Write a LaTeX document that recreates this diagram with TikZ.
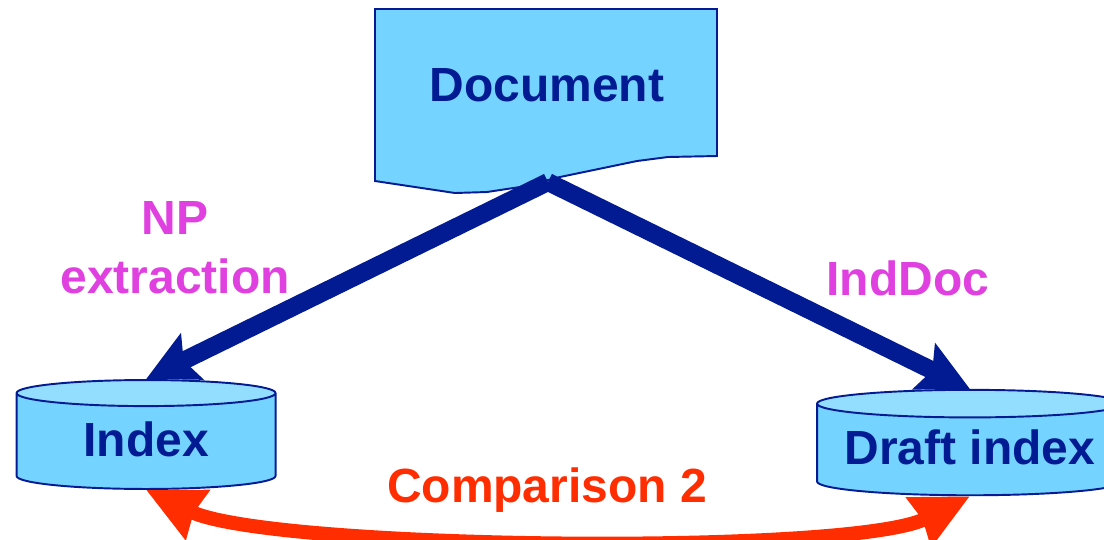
\documentclass[tikz,border=0pt]{standalone}
\usepackage{fontspec}
\setmainfont{Liberation Sans}
\usepackage{xcolor}
\usetikzlibrary{arrows.meta,backgrounds,positioning,shapes.geometric}
\definecolor{skyfill}{HTML}{75D3FF}
\definecolor{skytop}{HTML}{93DEFF}
\definecolor{navy}{HTML}{021B93}
\definecolor{redline}{HTML}{FF2D00}
\definecolor{pinklabel}{HTML}{E040E0}

\begin{document}
\begin{tikzpicture}[
    x=0.02cm, y=-0.02cm,
    on grid,
    txt/.style={font=\fontsize{27.3}{33.6}\selectfont\bfseries, align=center, inner sep=0pt},
    doclabel/.style={txt, text=navy},
    steplabel/.style={txt, text=pinklabel},
    store/.style={cylinder, shape border rotate=90, draw=navy, line width=1.1pt,
        cylinder uses custom fill, cylinder body fill=skyfill, cylinder end fill=skytop,
        inner sep=0pt, txt, text=navy},
    flow/.style={draw=navy, line width=10.2pt,
        -{Stealth[length=28.8pt, width=28.5pt, inset=5pt]}},
    compare/.style={draw=redline, line width=8pt,
        {Stealth[length=32pt, width=30pt, inset=2pt]}-{Stealth[length=32pt, width=30pt, inset=2pt]}}
]
    \useasboundingbox (0,0) rectangle (1104,539);

    \node[doclabel] (doc) at (547,85) {Document};
    \node[store, aspect=0.208, minimum height=62pt, minimum width=147.4pt, below left=202.9pt and 228.2pt of doc] (index) {\raisebox{2.3pt}{Index}};
    \node[store, aspect=0.11, minimum height=60pt, minimum width=174pt, below right=207.7pt and 240.7pt of doc] (draft) {\raisebox{2.8pt}{Draft index}};
    \coordinate (doctip) at (548,182);

    \node[steplabel, above right=110.1pt and 16.5pt of index] (np) {NP\\extraction};
    \node[steplabel, above left=97.9pt and 35.3pt of draft] (inddoc) {IndDoc};
    \node[txt, text=redline, below=230.5pt of doc] (cmp) {Comparison 2};

    \begin{scope}[on background layer]
        \draw[navy, line width=1.1pt, fill=skyfill] (375,9) -- (717,9) -- (717,156)
            -- (668,157) -- (637,161) -- (560,177) -- (520,187) -- (487,192) -- (455,193)
            -- (375,181) -- cycle;
        \draw[flow] (doctip) -- (index.north);
        \draw[flow] (doctip) -- (draft.north);
        \draw[compare] (index.south) .. controls (270,550) and (852,556) .. (draft.south);
    \end{scope}
\end{tikzpicture}
\end{document}
